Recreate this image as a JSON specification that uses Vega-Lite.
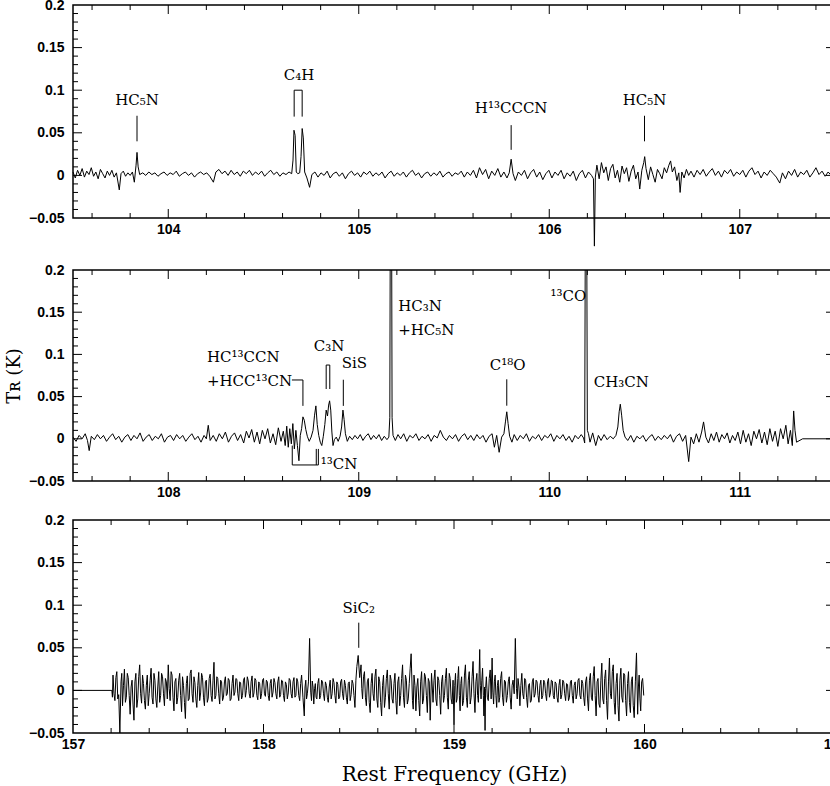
{
"$schema":"https://vega.github.io/schema/vega-lite/v6.json",
"padding":{"left":4,"top":-3,"right":0,"bottom":0},
"background":"white",
"config":{"view":{"stroke":"black","strokeWidth":1.5},
"axis":{"labelFont":"Liberation Sans","labelFontWeight":"bold","labelFontSize":14,"labelColor":"black","domain":false,"grid":false,"titleColor":"black","labelFlush":false,"labelOverlap":false}},
"datasets":{
"s1":[{"f":103.5,"T":0.004},{"f":103.512,"T":-0.003},{"f":103.524,"T":0.006},{"f":103.536,"T":0.0},{"f":103.548,"T":0.008},{"f":103.56,"T":-0.002},{"f":103.572,"T":0.005},{"f":103.584,"T":0.001},{"f":103.596,"T":0.009},{"f":103.608,"T":-0.001},{"f":103.62,"T":0.004},{"f":103.632,"T":-0.004},{"f":103.644,"T":0.007},{"f":103.656,"T":0.002},{"f":103.668,"T":-0.003},{"f":103.68,"T":0.005},{"f":103.692,"T":0.0},{"f":103.704,"T":0.006},{"f":103.716,"T":-0.002},{"f":103.728,"T":0.003},{"f":103.743,"T":-0.017},{"f":103.752,"T":0.002},{"f":103.764,"T":0.005},{"f":103.776,"T":-0.001},{"f":103.788,"T":0.003},{"f":103.8,"T":0.0},{"f":103.812,"T":0.004},{"f":103.822,"T":-0.008},{"f":103.831,"T":0.012},{"f":103.836,"T":0.027},{"f":103.842,"T":0.01},{"f":103.85,"T":0.001},{"f":103.866,"T":0.003},{"f":103.882,"T":0.0},{"f":103.898,"T":0.004},{"f":103.914,"T":0.001},{"f":103.93,"T":0.003},{"f":103.946,"T":-0.001},{"f":103.962,"T":0.002},{"f":103.978,"T":0.004},{"f":103.994,"T":0.0},{"f":104.01,"T":0.003},{"f":104.026,"T":0.001},{"f":104.042,"T":0.005},{"f":104.058,"T":-0.001},{"f":104.074,"T":0.002},{"f":104.09,"T":0.004},{"f":104.106,"T":0.0},{"f":104.122,"T":0.003},{"f":104.138,"T":-0.002},{"f":104.154,"T":0.002},{"f":104.17,"T":0.004},{"f":104.186,"T":0.001},{"f":104.202,"T":0.003},{"f":104.218,"T":-0.001},{"f":104.237,"T":-0.008},{"f":104.25,"T":0.004},{"f":104.266,"T":0.007},{"f":104.282,"T":0.002},{"f":104.298,"T":0.005},{"f":104.314,"T":0.0},{"f":104.33,"T":0.006},{"f":104.346,"T":0.001},{"f":104.362,"T":0.004},{"f":104.378,"T":-0.001},{"f":104.394,"T":0.005},{"f":104.41,"T":0.002},{"f":104.426,"T":0.006},{"f":104.442,"T":0.0},{"f":104.458,"T":0.004},{"f":104.474,"T":0.001},{"f":104.49,"T":0.005},{"f":104.506,"T":-0.001},{"f":104.522,"T":0.003},{"f":104.538,"T":0.006},{"f":104.554,"T":0.001},{"f":104.57,"T":0.004},{"f":104.586,"T":-0.001},{"f":104.602,"T":0.003},{"f":104.618,"T":0.001},{"f":104.634,"T":0.004},{"f":104.648,"T":0.002},{"f":104.655,"T":0.018},{"f":104.66,"T":0.053},{"f":104.666,"T":0.047},{"f":104.672,"T":0.004},{"f":104.68,"T":0.002},{"f":104.69,"T":0.003},{"f":104.697,"T":0.022},{"f":104.703,"T":0.055},{"f":104.709,"T":0.044},{"f":104.716,"T":0.004},{"f":104.728,"T":-0.003},{"f":104.742,"T":-0.014},{"f":104.754,"T":0.001},{"f":104.77,"T":0.004},{"f":104.786,"T":-0.002},{"f":104.802,"T":0.003},{"f":104.818,"T":0.0},{"f":104.834,"T":0.005},{"f":104.85,"T":-0.003},{"f":104.866,"T":0.002},{"f":104.882,"T":0.004},{"f":104.898,"T":-0.001},{"f":104.914,"T":0.003},{"f":104.93,"T":-0.004},{"f":104.946,"T":0.002},{"f":104.962,"T":0.005},{"f":104.978,"T":0.0},{"f":104.994,"T":0.003},{"f":105.01,"T":-0.002},{"f":105.026,"T":0.004},{"f":105.042,"T":0.001},{"f":105.058,"T":0.005},{"f":105.074,"T":-0.001},{"f":105.09,"T":0.003},{"f":105.106,"T":0.0},{"f":105.122,"T":0.004},{"f":105.138,"T":-0.003},{"f":105.154,"T":0.002},{"f":105.17,"T":0.005},{"f":105.186,"T":-0.001},{"f":105.202,"T":0.003},{"f":105.218,"T":0.0},{"f":105.234,"T":0.004},{"f":105.25,"T":-0.002},{"f":105.266,"T":0.003},{"f":105.282,"T":0.006},{"f":105.298,"T":0.0},{"f":105.314,"T":0.003},{"f":105.33,"T":-0.003},{"f":105.346,"T":0.002},{"f":105.362,"T":0.004},{"f":105.378,"T":-0.001},{"f":105.394,"T":0.003},{"f":105.41,"T":0.0},{"f":105.426,"T":0.005},{"f":105.442,"T":-0.002},{"f":105.458,"T":0.002},{"f":105.474,"T":0.004},{"f":105.49,"T":-0.001},{"f":105.506,"T":0.003},{"f":105.522,"T":0.001},{"f":105.538,"T":0.005},{"f":105.554,"T":-0.002},{"f":105.57,"T":0.004},{"f":105.586,"T":0.0},{"f":105.602,"T":0.006},{"f":105.618,"T":-0.003},{"f":105.634,"T":0.009},{"f":105.65,"T":0.001},{"f":105.666,"T":0.007},{"f":105.682,"T":-0.004},{"f":105.698,"T":0.005},{"f":105.714,"T":0.0},{"f":105.73,"T":0.008},{"f":105.746,"T":-0.002},{"f":105.762,"T":0.004},{"f":105.778,"T":-0.003},{"f":105.79,"T":0.003},{"f":105.8,"T":0.019},{"f":105.81,"T":0.002},{"f":105.822,"T":-0.006},{"f":105.838,"T":0.004},{"f":105.854,"T":0.0},{"f":105.87,"T":0.006},{"f":105.886,"T":-0.004},{"f":105.902,"T":0.003},{"f":105.918,"T":0.007},{"f":105.934,"T":-0.002},{"f":105.95,"T":0.004},{"f":105.966,"T":-0.005},{"f":105.982,"T":0.002},{"f":105.998,"T":0.006},{"f":106.014,"T":-0.003},{"f":106.03,"T":0.004},{"f":106.046,"T":0.0},{"f":106.062,"T":0.006},{"f":106.078,"T":-0.004},{"f":106.094,"T":0.003},{"f":106.11,"T":-0.001},{"f":106.126,"T":0.005},{"f":106.142,"T":-0.006},{"f":106.158,"T":0.002},{"f":106.174,"T":0.006},{"f":106.19,"T":-0.003},{"f":106.206,"T":0.004},{"f":106.222,"T":0.0},{"f":106.232,"T":-0.004},{"f":106.237,"T":-0.083},{"f":106.242,"T":-0.002},{"f":106.25,"T":0.012},{"f":106.262,"T":-0.004},{"f":106.274,"T":0.015},{"f":106.286,"T":0.003},{"f":106.298,"T":0.01},{"f":106.31,"T":-0.006},{"f":106.322,"T":0.008},{"f":106.334,"T":0.013},{"f":106.346,"T":-0.003},{"f":106.358,"T":0.006},{"f":106.37,"T":-0.008},{"f":106.382,"T":0.011},{"f":106.394,"T":0.002},{"f":106.406,"T":0.009},{"f":106.418,"T":-0.007},{"f":106.43,"T":0.005},{"f":106.442,"T":0.012},{"f":106.454,"T":-0.004},{"f":106.466,"T":0.004},{"f":106.475,"T":-0.016},{"f":106.486,"T":0.006},{"f":106.496,"T":0.015},{"f":106.501,"T":0.022},{"f":106.508,"T":0.008},{"f":106.52,"T":-0.005},{"f":106.532,"T":0.01},{"f":106.544,"T":0.001},{"f":106.556,"T":-0.008},{"f":106.568,"T":0.007},{"f":106.58,"T":0.002},{"f":106.592,"T":-0.004},{"f":106.604,"T":0.009},{"f":106.616,"T":0.003},{"f":106.628,"T":0.012},{"f":106.637,"T":0.017},{"f":106.646,"T":0.004},{"f":106.658,"T":0.01},{"f":106.67,"T":-0.006},{"f":106.68,"T":0.003},{"f":106.687,"T":-0.02},{"f":106.696,"T":0.004},{"f":106.708,"T":-0.003},{"f":106.72,"T":0.007},{"f":106.732,"T":0.0},{"f":106.744,"T":0.005},{"f":106.76,"T":-0.002},{"f":106.776,"T":0.006},{"f":106.792,"T":0.001},{"f":106.808,"T":0.007},{"f":106.824,"T":-0.001},{"f":106.84,"T":0.004},{"f":106.856,"T":0.008},{"f":106.872,"T":0.0},{"f":106.888,"T":0.005},{"f":106.904,"T":-0.002},{"f":106.92,"T":0.006},{"f":106.936,"T":0.002},{"f":106.952,"T":0.007},{"f":106.968,"T":-0.001},{"f":106.984,"T":0.004},{"f":107.0,"T":0.001},{"f":107.016,"T":0.006},{"f":107.032,"T":-0.002},{"f":107.048,"T":0.005},{"f":107.064,"T":0.009},{"f":107.08,"T":0.001},{"f":107.096,"T":0.005},{"f":107.112,"T":-0.003},{"f":107.128,"T":0.004},{"f":107.144,"T":0.0},{"f":107.16,"T":0.006},{"f":107.176,"T":0.002},{"f":107.192,"T":-0.002},{"f":107.21,"T":-0.009},{"f":107.224,"T":0.003},{"f":107.24,"T":-0.004},{"f":107.256,"T":0.005},{"f":107.272,"T":0.0},{"f":107.288,"T":0.007},{"f":107.304,"T":-0.002},{"f":107.32,"T":0.004},{"f":107.336,"T":0.001},{"f":107.352,"T":0.006},{"f":107.368,"T":-0.002},{"f":107.384,"T":0.003},{"f":107.4,"T":0.009},{"f":107.416,"T":0.001},{"f":107.432,"T":0.005},{"f":107.448,"T":-0.001},{"f":107.464,"T":0.004},{"f":107.48,"T":0.0},{"f":107.496,"T":0.003}],
"s2":[{"f":107.5,"T":0.002},{"f":107.516,"T":-0.003},{"f":107.532,"T":0.004},{"f":107.548,"T":0.0},{"f":107.564,"T":0.006},{"f":107.576,"T":-0.002},{"f":107.585,"T":-0.014},{"f":107.596,"T":0.003},{"f":107.612,"T":-0.001},{"f":107.628,"T":0.005},{"f":107.644,"T":0.0},{"f":107.66,"T":0.004},{"f":107.676,"T":-0.003},{"f":107.692,"T":0.002},{"f":107.708,"T":0.006},{"f":107.724,"T":-0.001},{"f":107.74,"T":0.003},{"f":107.756,"T":-0.004},{"f":107.772,"T":0.002},{"f":107.788,"T":0.005},{"f":107.804,"T":-0.002},{"f":107.82,"T":0.004},{"f":107.836,"T":0.0},{"f":107.852,"T":0.007},{"f":107.868,"T":-0.003},{"f":107.884,"T":0.002},{"f":107.9,"T":0.005},{"f":107.916,"T":-0.002},{"f":107.932,"T":0.003},{"f":107.948,"T":0.0},{"f":107.964,"T":0.006},{"f":107.98,"T":-0.004},{"f":107.996,"T":0.002},{"f":108.012,"T":0.004},{"f":108.028,"T":-0.002},{"f":108.044,"T":0.005},{"f":108.06,"T":0.0},{"f":108.076,"T":0.004},{"f":108.092,"T":-0.003},{"f":108.108,"T":0.002},{"f":108.124,"T":0.006},{"f":108.14,"T":-0.001},{"f":108.156,"T":0.003},{"f":108.172,"T":-0.004},{"f":108.188,"T":0.004},{"f":108.2,"T":0.0},{"f":108.21,"T":0.016},{"f":108.22,"T":-0.002},{"f":108.236,"T":0.004},{"f":108.252,"T":-0.003},{"f":108.268,"T":0.006},{"f":108.284,"T":0.0},{"f":108.3,"T":0.008},{"f":108.316,"T":-0.004},{"f":108.332,"T":0.003},{"f":108.348,"T":0.007},{"f":108.364,"T":-0.002},{"f":108.38,"T":0.005},{"f":108.396,"T":-0.005},{"f":108.41,"T":0.009},{"f":108.424,"T":0.001},{"f":108.438,"T":0.011},{"f":108.452,"T":-0.004},{"f":108.466,"T":0.008},{"f":108.48,"T":-0.006},{"f":108.494,"T":0.01},{"f":108.508,"T":0.0},{"f":108.522,"T":0.012},{"f":108.536,"T":-0.005},{"f":108.55,"T":0.006},{"f":108.564,"T":-0.007},{"f":108.578,"T":0.013},{"f":108.592,"T":-0.003},{"f":108.604,"T":0.009},{"f":108.614,"T":-0.008},{"f":108.622,"T":0.015},{"f":108.63,"T":-0.01},{"f":108.638,"T":0.012},{"f":108.646,"T":-0.006},{"f":108.654,"T":0.018},{"f":108.662,"T":-0.012},{"f":108.67,"T":0.01},{"f":108.678,"T":-0.008},{"f":108.686,"T":-0.026},{"f":108.693,"T":0.004},{"f":108.7,"T":0.012},{"f":108.707,"T":0.026},{"f":108.714,"T":0.022},{"f":108.722,"T":0.011},{"f":108.73,"T":0.003},{"f":108.74,"T":-0.003},{"f":108.75,"T":0.002},{"f":108.76,"T":0.01},{"f":108.768,"T":0.028},{"f":108.775,"T":0.039},{"f":108.782,"T":0.017},{"f":108.79,"T":0.004},{"f":108.798,"T":-0.004},{"f":108.806,"T":-0.008},{"f":108.814,"T":0.003},{"f":108.822,"T":0.017},{"f":108.829,"T":0.034},{"f":108.836,"T":0.027},{"f":108.842,"T":0.04},{"f":108.847,"T":0.045},{"f":108.853,"T":0.034},{"f":108.859,"T":0.008},{"f":108.865,"T":-0.008},{"f":108.872,"T":-0.001},{"f":108.882,"T":0.002},{"f":108.892,"T":-0.003},{"f":108.902,"T":0.003},{"f":108.91,"T":0.014},{"f":108.917,"T":0.034},{"f":108.923,"T":0.023},{"f":108.93,"T":0.006},{"f":108.94,"T":-0.003},{"f":108.952,"T":0.003},{"f":108.966,"T":-0.001},{"f":108.98,"T":0.004},{"f":108.994,"T":0.0},{"f":109.008,"T":0.005},{"f":109.022,"T":-0.002},{"f":109.036,"T":0.003},{"f":109.05,"T":0.006},{"f":109.064,"T":-0.001},{"f":109.078,"T":0.004},{"f":109.092,"T":0.0},{"f":109.106,"T":0.005},{"f":109.12,"T":-0.002},{"f":109.134,"T":0.003},{"f":109.148,"T":-0.001},{"f":109.158,"T":0.002},{"f":109.163,"T":0.025},{"f":109.166,"T":0.3},{"f":109.172,"T":0.3},{"f":109.175,"T":0.025},{"f":109.18,"T":0.004},{"f":109.192,"T":-0.002},{"f":109.206,"T":0.005},{"f":109.22,"T":0.0},{"f":109.236,"T":0.006},{"f":109.252,"T":-0.003},{"f":109.268,"T":0.004},{"f":109.284,"T":0.001},{"f":109.3,"T":0.006},{"f":109.316,"T":-0.002},{"f":109.332,"T":0.003},{"f":109.348,"T":0.0},{"f":109.364,"T":0.005},{"f":109.38,"T":-0.003},{"f":109.396,"T":0.004},{"f":109.412,"T":0.001},{"f":109.428,"T":0.01},{"f":109.444,"T":0.002},{"f":109.46,"T":-0.002},{"f":109.476,"T":0.004},{"f":109.492,"T":0.0},{"f":109.508,"T":0.005},{"f":109.524,"T":-0.003},{"f":109.54,"T":0.003},{"f":109.556,"T":0.006},{"f":109.572,"T":-0.001},{"f":109.588,"T":0.004},{"f":109.604,"T":-0.002},{"f":109.62,"T":0.005},{"f":109.636,"T":0.0},{"f":109.652,"T":0.004},{"f":109.668,"T":-0.004},{"f":109.684,"T":0.003},{"f":109.7,"T":0.006},{"f":109.712,"T":-0.01},{"f":109.724,"T":0.004},{"f":109.737,"T":-0.016},{"f":109.75,"T":0.002},{"f":109.762,"T":0.006},{"f":109.77,"T":0.02},{"f":109.777,"T":0.032},{"f":109.784,"T":0.018},{"f":109.792,"T":0.003},{"f":109.804,"T":-0.004},{"f":109.816,"T":0.005},{"f":109.832,"T":-0.002},{"f":109.848,"T":0.004},{"f":109.864,"T":0.0},{"f":109.88,"T":0.006},{"f":109.896,"T":-0.003},{"f":109.912,"T":0.003},{"f":109.928,"T":0.0},{"f":109.944,"T":0.005},{"f":109.96,"T":-0.002},{"f":109.976,"T":0.004},{"f":109.992,"T":0.001},{"f":110.008,"T":0.006},{"f":110.024,"T":-0.003},{"f":110.04,"T":0.004},{"f":110.056,"T":0.0},{"f":110.072,"T":0.005},{"f":110.088,"T":-0.002},{"f":110.104,"T":0.003},{"f":110.12,"T":-0.004},{"f":110.136,"T":0.004},{"f":110.152,"T":0.0},{"f":110.168,"T":0.005},{"f":110.18,"T":0.001},{"f":110.186,"T":-0.005},{"f":110.19,"T":0.3},{"f":110.196,"T":0.3},{"f":110.2,"T":0.01},{"f":110.206,"T":0.006},{"f":110.214,"T":-0.004},{"f":110.228,"T":0.007},{"f":110.244,"T":-0.008},{"f":110.258,"T":0.004},{"f":110.272,"T":-0.002},{"f":110.288,"T":0.005},{"f":110.304,"T":-0.001},{"f":110.32,"T":0.003},{"f":110.336,"T":0.0},{"f":110.35,"T":0.004},{"f":110.36,"T":0.014},{"f":110.367,"T":0.032},{"f":110.373,"T":0.041},{"f":110.38,"T":0.028},{"f":110.388,"T":0.01},{"f":110.398,"T":0.002},{"f":110.412,"T":-0.002},{"f":110.428,"T":0.004},{"f":110.444,"T":-0.004},{"f":110.46,"T":0.003},{"f":110.476,"T":0.0},{"f":110.492,"T":0.004},{"f":110.508,"T":-0.003},{"f":110.524,"T":0.002},{"f":110.54,"T":0.005},{"f":110.556,"T":-0.002},{"f":110.572,"T":0.003},{"f":110.588,"T":-0.001},{"f":110.604,"T":0.004},{"f":110.62,"T":0.0},{"f":110.636,"T":0.005},{"f":110.652,"T":-0.004},{"f":110.668,"T":0.003},{"f":110.684,"T":0.006},{"f":110.7,"T":-0.003},{"f":110.716,"T":0.004},{"f":110.732,"T":-0.027},{"f":110.744,"T":0.002},{"f":110.758,"T":-0.006},{"f":110.772,"T":0.006},{"f":110.786,"T":-0.004},{"f":110.8,"T":0.008},{"f":110.81,"T":0.02},{"f":110.822,"T":0.002},{"f":110.836,"T":-0.005},{"f":110.85,"T":0.006},{"f":110.864,"T":-0.002},{"f":110.878,"T":0.008},{"f":110.892,"T":-0.004},{"f":110.906,"T":0.005},{"f":110.92,"T":0.0},{"f":110.934,"T":0.007},{"f":110.948,"T":-0.005},{"f":110.962,"T":0.004},{"f":110.976,"T":-0.002},{"f":110.99,"T":0.008},{"f":111.004,"T":-0.006},{"f":111.018,"T":0.01},{"f":111.032,"T":-0.004},{"f":111.046,"T":0.006},{"f":111.06,"T":-0.008},{"f":111.074,"T":0.009},{"f":111.088,"T":0.0},{"f":111.102,"T":0.011},{"f":111.116,"T":-0.005},{"f":111.13,"T":0.008},{"f":111.144,"T":-0.007},{"f":111.158,"T":0.012},{"f":111.172,"T":-0.003},{"f":111.186,"T":0.009},{"f":111.2,"T":-0.009},{"f":111.214,"T":0.012},{"f":111.228,"T":0.0},{"f":111.242,"T":0.016},{"f":111.254,"T":-0.006},{"f":111.266,"T":0.01},{"f":111.276,"T":-0.008},{"f":111.283,"T":0.033},{"f":111.29,"T":0.01},{"f":111.298,"T":-0.004},{"f":111.33,"T":0.0},{"f":111.5,"T":0.0}],
"s3":[{"f":157.0,"T":0.0},{"f":157.204,"T":0.0},{"f":157.207,"T":-0.008},{"f":157.21,"T":0.018},{"f":157.215,"T":-0.004},{"f":157.22,"T":-0.012},{"f":157.225,"T":0.015},{"f":157.23,"T":0.022},{"f":157.235,"T":-0.01},{"f":157.24,"T":-0.005},{"f":157.246,"T":-0.05},{"f":157.252,"T":0.01},{"f":157.256,"T":0.02},{"f":157.26,"T":-0.018},{"f":157.265,"T":0.006},{"f":157.27,"T":0.025},{"f":157.275,"T":-0.014},{"f":157.28,"T":-0.008},{"f":157.285,"T":0.02},{"f":157.29,"T":0.015},{"f":157.295,"T":-0.006},{"f":157.3,"T":-0.028},{"f":157.305,"T":0.004},{"f":157.31,"T":0.012},{"f":157.315,"T":-0.016},{"f":157.32,"T":-0.035},{"f":157.325,"T":0.01},{"f":157.33,"T":0.02},{"f":157.335,"T":-0.02},{"f":157.34,"T":-0.01},{"f":157.345,"T":0.016},{"f":157.35,"T":0.03},{"f":157.355,"T":-0.004},{"f":157.36,"T":-0.015},{"f":157.365,"T":0.018},{"f":157.37,"T":0.008},{"f":157.375,"T":-0.012},{"f":157.38,"T":-0.022},{"f":157.385,"T":0.006},{"f":157.39,"T":0.018},{"f":157.395,"T":-0.018},{"f":157.4,"T":-0.004},{"f":157.405,"T":0.012},{"f":157.41,"T":0.026},{"f":157.415,"T":-0.008},{"f":157.42,"T":-0.016},{"f":157.425,"T":0.02},{"f":157.43,"T":0.012},{"f":157.435,"T":-0.01},{"f":157.44,"T":-0.02},{"f":157.445,"T":0.004},{"f":157.45,"T":0.022},{"f":157.455,"T":-0.014},{"f":157.46,"T":-0.006},{"f":157.465,"T":0.02},{"f":157.47,"T":0.016},{"f":157.475,"T":-0.004},{"f":157.48,"T":-0.018},{"f":157.485,"T":0.014},{"f":157.49,"T":0.01},{"f":157.495,"T":-0.01},{"f":157.5,"T":0.03},{"f":157.505,"T":0.002},{"f":157.51,"T":-0.012},{"f":157.515,"T":0.022},{"f":157.52,"T":0.018},{"f":157.525,"T":-0.008},{"f":157.53,"T":-0.024},{"f":157.535,"T":0.01},{"f":157.54,"T":0.014},{"f":157.545,"T":-0.016},{"f":157.55,"T":-0.008},{"f":157.555,"T":0.012},{"f":157.56,"T":0.02},{"f":157.565,"T":-0.006},{"f":157.57,"T":-0.025},{"f":157.575,"T":0.016},{"f":157.58,"T":0.006},{"f":157.585,"T":-0.014},{"f":157.59,"T":-0.033},{"f":157.595,"T":0.008},{"f":157.6,"T":0.017},{"f":157.605,"T":-0.012},{"f":157.61,"T":-0.01},{"f":157.615,"T":0.02},{"f":157.62,"T":0.024},{"f":157.625,"T":-0.004},{"f":157.63,"T":-0.014},{"f":157.635,"T":0.016},{"f":157.64,"T":0.009},{"f":157.645,"T":-0.01},{"f":157.65,"T":-0.02},{"f":157.655,"T":0.006},{"f":157.66,"T":0.021},{"f":157.665,"T":-0.012},{"f":157.67,"T":-0.003},{"f":157.675,"T":0.02},{"f":157.68,"T":0.015},{"f":157.685,"T":-0.008},{"f":157.69,"T":-0.018},{"f":157.695,"T":0.01},{"f":157.7,"T":0.012},{"f":157.705,"T":-0.014},{"f":157.71,"T":-0.009},{"f":157.715,"T":0.014},{"f":157.72,"T":0.019},{"f":157.725,"T":-0.006},{"f":157.73,"T":-0.013},{"f":157.735,"T":0.012},{"f":157.74,"T":0.033},{"f":157.745,"T":-0.01},{"f":157.75,"T":-0.006},{"f":157.755,"T":0.016},{"f":157.76,"T":0.014},{"f":157.765,"T":-0.004},{"f":157.77,"T":-0.016},{"f":157.775,"T":0.012},{"f":157.78,"T":0.01},{"f":157.785,"T":-0.012},{"f":157.79,"T":-0.008},{"f":157.795,"T":0.01},{"f":157.8,"T":0.016},{"f":157.805,"T":-0.006},{"f":157.81,"T":-0.004},{"f":157.815,"T":0.014},{"f":157.82,"T":0.012},{"f":157.825,"T":-0.012},{"f":157.83,"T":-0.01},{"f":157.835,"T":0.008},{"f":157.84,"T":0.018},{"f":157.845,"T":-0.006},{"f":157.85,"T":-0.002},{"f":157.855,"T":0.014},{"f":157.86,"T":0.013},{"f":157.865,"T":-0.004},{"f":157.87,"T":-0.012},{"f":157.875,"T":0.01},{"f":157.88,"T":0.009},{"f":157.885,"T":-0.01},{"f":157.89,"T":-0.006},{"f":157.895,"T":0.012},{"f":157.9,"T":0.015},{"f":157.905,"T":-0.008},{"f":157.91,"T":0.0},{"f":157.915,"T":0.016},{"f":157.92,"T":0.011},{"f":157.925,"T":-0.004},{"f":157.93,"T":-0.009},{"f":157.935,"T":0.01},{"f":157.94,"T":0.017},{"f":157.945,"T":-0.008},{"f":157.95,"T":-0.003},{"f":157.955,"T":0.014},{"f":157.96,"T":0.012},{"f":157.965,"T":-0.006},{"f":157.97,"T":-0.011},{"f":157.975,"T":0.01},{"f":157.98,"T":0.008},{"f":157.985,"T":-0.01},{"f":157.99,"T":-0.004},{"f":157.995,"T":0.012},{"f":158.0,"T":0.014},{"f":158.005,"T":-0.004},{"f":158.01,"T":-0.007},{"f":158.015,"T":0.012},{"f":158.02,"T":0.01},{"f":158.025,"T":-0.006},{"f":158.03,"T":-0.012},{"f":158.035,"T":0.008},{"f":158.04,"T":0.013},{"f":158.045,"T":-0.008},{"f":158.05,"T":-0.002},{"f":158.055,"T":0.014},{"f":158.06,"T":0.009},{"f":158.065,"T":-0.004},{"f":158.07,"T":-0.01},{"f":158.075,"T":0.01},{"f":158.08,"T":0.016},{"f":158.085,"T":-0.008},{"f":158.09,"T":-0.005},{"f":158.095,"T":0.012},{"f":158.1,"T":0.011},{"f":158.105,"T":-0.006},{"f":158.11,"T":-0.013},{"f":158.115,"T":0.01},{"f":158.12,"T":0.007},{"f":158.125,"T":-0.01},{"f":158.13,"T":-0.003},{"f":158.135,"T":0.014},{"f":158.14,"T":0.012},{"f":158.145,"T":-0.004},{"f":158.15,"T":-0.009},{"f":158.155,"T":0.01},{"f":158.16,"T":0.015},{"f":158.165,"T":-0.008},{"f":158.17,"T":-0.006},{"f":158.175,"T":0.014},{"f":158.18,"T":0.01},{"f":158.185,"T":-0.006},{"f":158.19,"T":-0.012},{"f":158.195,"T":0.008},{"f":158.2,"T":0.018},{"f":158.207,"T":-0.008},{"f":158.214,"T":-0.03},{"f":158.218,"T":0.004},{"f":158.222,"T":0.012},{"f":158.226,"T":-0.01},{"f":158.23,"T":-0.004},{"f":158.236,"T":0.01},{"f":158.242,"T":0.061},{"f":158.248,"T":-0.002},{"f":158.252,"T":-0.012},{"f":158.256,"T":0.011},{"f":158.26,"T":0.004},{"f":158.264,"T":-0.016},{"f":158.268,"T":0.002},{"f":158.272,"T":0.008},{"f":158.276,"T":-0.008},{"f":158.28,"T":-0.01},{"f":158.285,"T":0.008},{"f":158.29,"T":0.014},{"f":158.295,"T":-0.01},{"f":158.3,"T":-0.006},{"f":158.305,"T":0.012},{"f":158.31,"T":0.01},{"f":158.315,"T":-0.004},{"f":158.32,"T":-0.012},{"f":158.325,"T":0.01},{"f":158.33,"T":0.006},{"f":158.335,"T":-0.008},{"f":158.34,"T":-0.014},{"f":158.345,"T":0.004},{"f":158.35,"T":0.012},{"f":158.355,"T":-0.01},{"f":158.36,"T":-0.004},{"f":158.365,"T":0.014},{"f":158.37,"T":0.009},{"f":158.375,"T":-0.006},{"f":158.38,"T":-0.015},{"f":158.385,"T":0.01},{"f":158.39,"T":0.007},{"f":158.395,"T":-0.01},{"f":158.4,"T":-0.008},{"f":158.405,"T":0.01},{"f":158.41,"T":0.013},{"f":158.415,"T":-0.004},{"f":158.42,"T":-0.011},{"f":158.425,"T":0.012},{"f":158.43,"T":0.006},{"f":158.435,"T":-0.008},{"f":158.44,"T":-0.016},{"f":158.445,"T":0.008},{"f":158.45,"T":0.01},{"f":158.455,"T":-0.012},{"f":158.46,"T":-0.005},{"f":158.465,"T":0.012},{"f":158.47,"T":0.008},{"f":158.475,"T":-0.006},{"f":158.48,"T":-0.02},{"f":158.485,"T":0.012},{"f":158.49,"T":0.028},{"f":158.497,"T":0.041},{"f":158.505,"T":0.015},{"f":158.512,"T":0.03},{"f":158.516,"T":0.002},{"f":158.52,"T":-0.01},{"f":158.525,"T":0.016},{"f":158.53,"T":0.022},{"f":158.535,"T":-0.008},{"f":158.54,"T":-0.018},{"f":158.545,"T":0.01},{"f":158.55,"T":0.014},{"f":158.555,"T":-0.014},{"f":158.56,"T":-0.026},{"f":158.565,"T":0.008},{"f":158.57,"T":0.02},{"f":158.575,"T":-0.004},{"f":158.58,"T":-0.012},{"f":158.585,"T":0.016},{"f":158.59,"T":0.025},{"f":158.595,"T":-0.01},{"f":158.6,"T":-0.02},{"f":158.605,"T":0.016},{"f":158.61,"T":0.01},{"f":158.615,"T":-0.014},{"f":158.62,"T":-0.03},{"f":158.625,"T":0.006},{"f":158.63,"T":0.018},{"f":158.635,"T":-0.02},{"f":158.64,"T":-0.008},{"f":158.645,"T":0.014},{"f":158.65,"T":0.024},{"f":158.655,"T":-0.004},{"f":158.66,"T":-0.022},{"f":158.665,"T":0.018},{"f":158.67,"T":0.012},{"f":158.675,"T":-0.01},{"f":158.68,"T":-0.015},{"f":158.685,"T":0.008},{"f":158.69,"T":0.02},{"f":158.695,"T":-0.012},{"f":158.7,"T":-0.028},{"f":158.705,"T":0.01},{"f":158.71,"T":0.016},{"f":158.715,"T":-0.018},{"f":158.72,"T":-0.006},{"f":158.725,"T":0.014},{"f":158.73,"T":0.03},{"f":158.735,"T":-0.008},{"f":158.74,"T":-0.02},{"f":158.745,"T":0.018},{"f":158.75,"T":0.012},{"f":158.755,"T":-0.016},{"f":158.76,"T":-0.01},{"f":158.765,"T":0.008},{"f":158.77,"T":0.026},{"f":158.775,"T":0.043},{"f":158.782,"T":-0.012},{"f":158.786,"T":-0.022},{"f":158.79,"T":0.018},{"f":158.795,"T":0.006},{"f":158.8,"T":-0.024},{"f":158.805,"T":0.004},{"f":158.81,"T":0.014},{"f":158.815,"T":-0.012},{"f":158.82,"T":-0.03},{"f":158.825,"T":0.01},{"f":158.83,"T":0.022},{"f":158.835,"T":-0.016},{"f":158.84,"T":-0.01},{"f":158.845,"T":0.02},{"f":158.85,"T":0.016},{"f":158.855,"T":-0.006},{"f":158.86,"T":-0.026},{"f":158.865,"T":0.014},{"f":158.87,"T":0.01},{"f":158.875,"T":-0.035},{"f":158.882,"T":0.02},{"f":158.886,"T":0.004},{"f":158.89,"T":-0.014},{"f":158.895,"T":0.012},{"f":158.9,"T":0.024},{"f":158.905,"T":-0.01},{"f":158.91,"T":-0.018},{"f":158.915,"T":0.016},{"f":158.92,"T":0.012},{"f":158.925,"T":-0.006},{"f":158.93,"T":-0.028},{"f":158.935,"T":0.01},{"f":158.94,"T":0.018},{"f":158.945,"T":-0.014},{"f":158.95,"T":-0.006},{"f":158.955,"T":0.014},{"f":158.96,"T":0.026},{"f":158.965,"T":-0.008},{"f":158.97,"T":-0.022},{"f":158.975,"T":0.02},{"f":158.98,"T":0.014},{"f":158.985,"T":-0.01},{"f":158.99,"T":-0.016},{"f":158.995,"T":0.012},{"f":159.0,"T":-0.04},{"f":159.004,"T":0.006},{"f":159.008,"T":0.02},{"f":159.012,"T":-0.014},{"f":159.016,"T":-0.01},{"f":159.02,"T":0.014},{"f":159.024,"T":0.028},{"f":159.028,"T":-0.006},{"f":159.032,"T":-0.024},{"f":159.036,"T":0.008},{"f":159.04,"T":0.016},{"f":159.045,"T":-0.018},{"f":159.05,"T":-0.012},{"f":159.055,"T":0.018},{"f":159.06,"T":0.03},{"f":159.065,"T":-0.008},{"f":159.07,"T":-0.02},{"f":159.075,"T":0.012},{"f":159.08,"T":0.022},{"f":159.085,"T":-0.016},{"f":159.09,"T":-0.008},{"f":159.095,"T":0.016},{"f":159.1,"T":0.034},{"f":159.105,"T":-0.004},{"f":159.11,"T":-0.026},{"f":159.115,"T":0.01},{"f":159.12,"T":0.02},{"f":159.124,"T":-0.006},{"f":159.128,"T":-0.014},{"f":159.132,"T":0.02},{"f":159.135,"T":0.048},{"f":159.138,"T":0.006},{"f":159.142,"T":-0.01},{"f":159.146,"T":0.012},{"f":159.15,"T":0.026},{"f":159.154,"T":-0.006},{"f":159.157,"T":-0.03},{"f":159.16,"T":0.004},{"f":159.163,"T":-0.047},{"f":159.166,"T":0.002},{"f":159.17,"T":0.016},{"f":159.175,"T":-0.008},{"f":159.18,"T":-0.012},{"f":159.185,"T":0.014},{"f":159.19,"T":0.024},{"f":159.195,"T":-0.01},{"f":159.2,"T":0.038},{"f":159.204,"T":-0.002},{"f":159.208,"T":-0.016},{"f":159.212,"T":0.01},{"f":159.216,"T":0.018},{"f":159.22,"T":-0.006},{"f":159.224,"T":-0.02},{"f":159.228,"T":0.006},{"f":159.232,"T":0.012},{"f":159.236,"T":-0.014},{"f":159.24,"T":-0.008},{"f":159.245,"T":0.014},{"f":159.25,"T":0.022},{"f":159.255,"T":-0.008},{"f":159.26,"T":-0.018},{"f":159.265,"T":0.012},{"f":159.27,"T":0.01},{"f":159.275,"T":-0.014},{"f":159.28,"T":-0.006},{"f":159.285,"T":0.01},{"f":159.29,"T":0.016},{"f":159.295,"T":-0.008},{"f":159.3,"T":-0.022},{"f":159.305,"T":0.006},{"f":159.31,"T":0.012},{"f":159.316,"T":-0.004},{"f":159.322,"T":0.061},{"f":159.328,"T":0.002},{"f":159.332,"T":-0.01},{"f":159.336,"T":0.014},{"f":159.341,"T":0.004},{"f":159.346,"T":-0.018},{"f":159.351,"T":0.006},{"f":159.356,"T":0.02},{"f":159.361,"T":-0.004},{"f":159.366,"T":-0.01},{"f":159.371,"T":0.014},{"f":159.376,"T":0.012},{"f":159.381,"T":-0.008},{"f":159.386,"T":-0.02},{"f":159.391,"T":0.006},{"f":159.396,"T":0.008},{"f":159.401,"T":-0.014},{"f":159.406,"T":-0.012},{"f":159.411,"T":0.01},{"f":159.416,"T":0.014},{"f":159.421,"T":-0.008},{"f":159.426,"T":-0.004},{"f":159.431,"T":0.012},{"f":159.436,"T":0.01},{"f":159.441,"T":-0.006},{"f":159.446,"T":-0.014},{"f":159.451,"T":0.006},{"f":159.456,"T":0.012},{"f":159.461,"T":-0.01},{"f":159.466,"T":-0.006},{"f":159.471,"T":0.012},{"f":159.476,"T":0.009},{"f":159.481,"T":-0.004},{"f":159.486,"T":-0.012},{"f":159.491,"T":0.01},{"f":159.496,"T":0.014},{"f":159.501,"T":-0.008},{"f":159.506,"T":-0.003},{"f":159.511,"T":0.012},{"f":159.516,"T":0.011},{"f":159.521,"T":-0.006},{"f":159.526,"T":-0.01},{"f":159.531,"T":0.01},{"f":159.536,"T":0.008},{"f":159.541,"T":-0.008},{"f":159.546,"T":-0.014},{"f":159.551,"T":0.006},{"f":159.556,"T":0.013},{"f":159.561,"T":-0.01},{"f":159.566,"T":-0.005},{"f":159.571,"T":0.012},{"f":159.576,"T":0.01},{"f":159.581,"T":-0.004},{"f":159.586,"T":-0.012},{"f":159.591,"T":0.008},{"f":159.596,"T":0.007},{"f":159.601,"T":-0.012},{"f":159.606,"T":-0.008},{"f":159.611,"T":0.01},{"f":159.616,"T":0.012},{"f":159.621,"T":-0.006},{"f":159.626,"T":-0.015},{"f":159.631,"T":0.006},{"f":159.636,"T":0.01},{"f":159.641,"T":-0.01},{"f":159.646,"T":-0.004},{"f":159.651,"T":0.012},{"f":159.656,"T":0.014},{"f":159.661,"T":-0.006},{"f":159.666,"T":-0.01},{"f":159.671,"T":0.012},{"f":159.676,"T":0.008},{"f":159.681,"T":-0.008},{"f":159.686,"T":-0.018},{"f":159.691,"T":0.01},{"f":159.696,"T":0.016},{"f":159.701,"T":-0.01},{"f":159.706,"T":-0.024},{"f":159.711,"T":0.012},{"f":159.716,"T":0.02},{"f":159.721,"T":-0.008},{"f":159.726,"T":-0.012},{"f":159.731,"T":0.016},{"f":159.736,"T":0.028},{"f":159.741,"T":-0.006},{"f":159.746,"T":-0.03},{"f":159.751,"T":0.01},{"f":159.756,"T":0.014},{"f":159.761,"T":-0.016},{"f":159.766,"T":-0.02},{"f":159.771,"T":0.012},{"f":159.776,"T":0.032},{"f":159.781,"T":-0.01},{"f":159.786,"T":-0.016},{"f":159.791,"T":0.014},{"f":159.796,"T":0.024},{"f":159.801,"T":-0.012},{"f":159.806,"T":-0.034},{"f":159.811,"T":0.01},{"f":159.816,"T":0.038},{"f":159.821,"T":-0.004},{"f":159.826,"T":-0.01},{"f":159.831,"T":0.022},{"f":159.836,"T":0.03},{"f":159.841,"T":-0.014},{"f":159.846,"T":-0.028},{"f":159.851,"T":0.008},{"f":159.856,"T":0.02},{"f":159.861,"T":-0.018},{"f":159.866,"T":-0.036},{"f":159.871,"T":0.012},{"f":159.876,"T":0.026},{"f":159.881,"T":-0.008},{"f":159.886,"T":-0.014},{"f":159.891,"T":0.02},{"f":159.896,"T":0.018},{"f":159.901,"T":-0.012},{"f":159.906,"T":-0.03},{"f":159.911,"T":0.008},{"f":159.916,"T":0.022},{"f":159.921,"T":-0.014},{"f":159.926,"T":-0.026},{"f":159.931,"T":0.01},{"f":159.936,"T":0.016},{"f":159.941,"T":-0.018},{"f":159.946,"T":-0.032},{"f":159.952,"T":0.01},{"f":159.958,"T":0.044},{"f":159.964,"T":-0.028},{"f":159.968,"T":0.004},{"f":159.972,"T":0.018},{"f":159.976,"T":-0.01},{"f":159.98,"T":-0.024},{"f":159.985,"T":0.01},{"f":159.99,"T":0.014},{"f":159.996,"T":-0.006}],
"l1c":[{"f":103.836,"T":0.083,"label":"HC₅N"},{"f":104.686,"T":0.112,"label":"C₄H"},{"f":105.8,"T":0.073,"label":"H¹³CCCN"},{"f":106.5,"T":0.083,"label":"HC₅N"}],
"r1":[{"f":103.836,"T":0.04,"f2":103.836,"T2":0.07},{"f":104.661,"T":0.069,"f2":104.661,"T2":0.1},{"f":104.703,"T":0.069,"f2":104.703,"T2":0.1},{"f":104.661,"T":0.1,"f2":104.703,"T2":0.1},{"f":105.8,"T":0.03,"f2":105.8,"T2":0.059},{"f":106.5,"T":0.04,"f2":106.5,"T2":0.07}],
"l2c":[{"f":108.844,"T":0.104,"label":"C₃N"},{"f":108.977,"T":0.084,"label":"SiS"},{"f":109.782,"T":0.0815,"label":"C¹⁸O"},{"f":110.378,"T":0.0618,"label":"CH₃CN"}],
"l2l":[{"f":108.203,"T":0.091,"label":"HC¹³CCN"},{"f":108.203,"T":0.0626,"label":"+HCC¹³CN"},{"f":108.8,"T":-0.036,"label":"¹³CN"},{"f":109.207,"T":0.152,"label":"HC₃N"},{"f":109.207,"T":0.123,"label":"+HC₅N"}],
"l2r":[{"f":110.195,"T":0.1636,"label":"¹³CO"}],
"r2":[{"f":108.649,"T":0.0697,"f2":108.707,"T2":0.0697},{"f":108.707,"T":0.039,"f2":108.707,"T2":0.0697},{"f":108.829,"T":0.059,"f2":108.829,"T2":0.0874},{"f":108.848,"T":0.059,"f2":108.848,"T2":0.0874},{"f":108.829,"T":0.0874,"f2":108.848,"T2":0.0874},{"f":108.919,"T":0.039,"f2":108.919,"T2":0.07},{"f":108.651,"T":-0.031,"f2":108.651,"T2":-0.008},{"f":108.777,"T":-0.031,"f2":108.777,"T2":-0.012},{"f":108.788,"T":-0.031,"f2":108.788,"T2":-0.012},{"f":108.651,"T":-0.031,"f2":108.788,"T2":-0.031},{"f":109.777,"T":0.0392,"f2":109.777,"T2":0.0705}],
"l3c":[{"f":158.5,"T":0.0909,"label":"SiC₂"}],
"r3":[{"f":158.5,"T":0.05,"f2":158.5,"T2":0.0795}],
"xM1":[{"v":104},{"v":105},{"v":106},{"v":107}],
"xm1":[{"v":103.6},{"v":103.8},{"v":104.2},{"v":104.4},{"v":104.6},{"v":104.8},{"v":105.2},{"v":105.4},{"v":105.6},{"v":105.8},{"v":106.2},{"v":106.4},{"v":106.6},{"v":106.8},{"v":107.2},{"v":107.4}],
"xM2":[{"v":108},{"v":109},{"v":110},{"v":111}],
"xm2":[{"v":107.6},{"v":107.8},{"v":108.2},{"v":108.4},{"v":108.6},{"v":108.8},{"v":109.2},{"v":109.4},{"v":109.6},{"v":109.8},{"v":110.2},{"v":110.4},{"v":110.6},{"v":110.8},{"v":111.2},{"v":111.4}],
"xM3":[{"v":158},{"v":159},{"v":160}],
"xm3":[{"v":157.2},{"v":157.4},{"v":157.6},{"v":157.8},{"v":158.2},{"v":158.4},{"v":158.6},{"v":158.8},{"v":159.2},{"v":159.4},{"v":159.6},{"v":159.8},{"v":160.2},{"v":160.4},{"v":160.6},{"v":160.8}],
"yM":[{"v":0},{"v":0.05},{"v":0.1},{"v":0.15}],
"ym":[{"v":-0.04},{"v":-0.03},{"v":-0.02},{"v":-0.01},{"v":0.01},{"v":0.02},{"v":0.03},{"v":0.04},{"v":0.06},{"v":0.07},{"v":0.08},{"v":0.09},{"v":0.11},{"v":0.12},{"v":0.13},{"v":0.14},{"v":0.16},{"v":0.17},{"v":0.18},{"v":0.19}]
},
"bounds":"flush",
"spacing":52,
"vconcat":[
{"width":762,"height":213,
"layer":[
{"data":{"name":"s1"},"mark":{"type":"line","color":"black","strokeWidth":1,"clip":false},
"encoding":{"x":{"field":"f","type":"quantitative","scale":{"domain":[103.5,107.5],"nice":false,"zero":false},"axis":{"orient":"bottom","values":[104,105,106,107],"format":"d","ticks":false,"labelPadding":4,"title":null}},
"y":{"field":"T","type":"quantitative","scale":{"domain":[-0.05,0.2],"nice":false,"zero":false},"axis":{"orient":"left","values":[-0.05,0,0.05,0.1,0.15,0.2],"format":".2~f","ticks":false,"labelPadding":9,"title":null}}}},
{"data":{"name":"xM1"},"mark":{"type":"rule","color":"black","strokeWidth":1,"strokeDash":[9,195,9,2000]},
"encoding":{"x":{"field":"v","type":"quantitative"},"y":{"datum":-0.05,"type":"quantitative"},"y2":{"datum":0.2}}},
{"data":{"name":"xm1"},"mark":{"type":"rule","color":"black","strokeWidth":1,"strokeDash":[5,203,5,2000]},
"encoding":{"x":{"field":"v","type":"quantitative"},"y":{"datum":-0.05,"type":"quantitative"},"y2":{"datum":0.2}}},
{"data":{"name":"yM"},"mark":{"type":"rule","color":"black","strokeWidth":1,"strokeDash":[9,744,9,2000]},
"encoding":{"y":{"field":"v","type":"quantitative"},"x":{"datum":103.5,"type":"quantitative"},"x2":{"datum":107.5}}},
{"data":{"name":"ym"},"mark":{"type":"rule","color":"black","strokeWidth":1,"strokeDash":[5,752,5,2000]},
"encoding":{"y":{"field":"v","type":"quantitative"},"x":{"datum":103.5,"type":"quantitative"},"x2":{"datum":107.5}}},
{"data":{"name":"r1"},"mark":{"type":"rule","color":"black","strokeWidth":1},
"encoding":{"x":{"field":"f","type":"quantitative"},"x2":{"field":"f2"},"y":{"field":"T","type":"quantitative"},"y2":{"field":"T2"}}},
{"data":{"name":"l1c"},"mark":{"type":"text","align":"center","baseline":"alphabetic","font":"DejaVu Serif","fontSize":15,"color":"black"},
"encoding":{"x":{"field":"f","type":"quantitative"},"y":{"field":"T","type":"quantitative"},"text":{"field":"label"}}}
]},
{"bounds":"flush","spacing":39,"vconcat":[
{"width":762,"height":211,
"layer":[
{"data":{"name":"s2"},"mark":{"type":"line","color":"black","strokeWidth":1,"clip":true},
"encoding":{"x":{"field":"f","type":"quantitative","scale":{"domain":[107.5,111.5],"nice":false,"zero":false},"axis":{"orient":"bottom","values":[108,109,110,111],"format":"d","ticks":false,"labelPadding":4,"title":null}},
"y":{"field":"T","type":"quantitative","scale":{"domain":[-0.05,0.2],"nice":false,"zero":false},"axis":{"orient":"left","values":[-0.05,0,0.05,0.1,0.15,0.2],"format":".2~f","ticks":false,"labelPadding":9,"title":"Tʀ (K)","titleFont":"DejaVu Serif","titleFontSize":18,"titleFontWeight":"normal","titlePadding":5}}}},
{"data":{"name":"xM2"},"mark":{"type":"rule","color":"black","strokeWidth":1,"strokeDash":[9,193,9,2000]},
"encoding":{"x":{"field":"v","type":"quantitative"},"y":{"datum":-0.05,"type":"quantitative"},"y2":{"datum":0.2}}},
{"data":{"name":"xm2"},"mark":{"type":"rule","color":"black","strokeWidth":1,"strokeDash":[5,201,5,2000]},
"encoding":{"x":{"field":"v","type":"quantitative"},"y":{"datum":-0.05,"type":"quantitative"},"y2":{"datum":0.2}}},
{"data":{"name":"yM"},"mark":{"type":"rule","color":"black","strokeWidth":1,"strokeDash":[9,744,9,2000]},
"encoding":{"y":{"field":"v","type":"quantitative"},"x":{"datum":107.5,"type":"quantitative"},"x2":{"datum":111.5}}},
{"data":{"name":"ym"},"mark":{"type":"rule","color":"black","strokeWidth":1,"strokeDash":[5,752,5,2000]},
"encoding":{"y":{"field":"v","type":"quantitative"},"x":{"datum":107.5,"type":"quantitative"},"x2":{"datum":111.5}}},
{"data":{"name":"r2"},"mark":{"type":"rule","color":"black","strokeWidth":1},
"encoding":{"x":{"field":"f","type":"quantitative"},"x2":{"field":"f2"},"y":{"field":"T","type":"quantitative"},"y2":{"field":"T2"}}},
{"data":{"name":"l2c"},"mark":{"type":"text","align":"center","baseline":"alphabetic","font":"DejaVu Serif","fontSize":15,"color":"black"},
"encoding":{"x":{"field":"f","type":"quantitative"},"y":{"field":"T","type":"quantitative"},"text":{"field":"label"}}},
{"data":{"name":"l2l"},"mark":{"type":"text","align":"left","baseline":"alphabetic","font":"DejaVu Serif","fontSize":15,"color":"black"},
"encoding":{"x":{"field":"f","type":"quantitative"},"y":{"field":"T","type":"quantitative"},"text":{"field":"label"}}},
{"data":{"name":"l2r"},"mark":{"type":"text","align":"right","baseline":"alphabetic","font":"DejaVu Serif","fontSize":15,"color":"black"},
"encoding":{"x":{"field":"f","type":"quantitative"},"y":{"field":"T","type":"quantitative"},"text":{"field":"label"}}}
]},
{"width":762,"height":213,
"layer":[
{"data":{"name":"s3"},"mark":{"type":"line","color":"black","strokeWidth":1,"clip":true},
"encoding":{"x":{"field":"f","type":"quantitative","scale":{"domain":[157,161],"nice":false,"zero":false},"axis":{"orient":"bottom","values":[157,158,159,160,161],"format":"d","ticks":false,"labelPadding":4,"title":"Rest Frequency (GHz)","titleFont":"DejaVu Serif","titleFontSize":20,"titleFontWeight":"normal","titlePadding":13}},
"y":{"field":"T","type":"quantitative","scale":{"domain":[-0.05,0.2],"nice":false,"zero":false},"axis":{"orient":"left","values":[-0.05,0,0.05,0.1,0.15,0.2],"format":".2~f","ticks":false,"labelPadding":9,"title":null}}}},
{"data":{"name":"xM3"},"mark":{"type":"rule","color":"black","strokeWidth":1,"strokeDash":[9,195,9,2000]},
"encoding":{"x":{"field":"v","type":"quantitative"},"y":{"datum":-0.05,"type":"quantitative"},"y2":{"datum":0.2}}},
{"data":{"name":"xm3"},"mark":{"type":"rule","color":"black","strokeWidth":1,"strokeDash":[5,203,5,2000]},
"encoding":{"x":{"field":"v","type":"quantitative"},"y":{"datum":-0.05,"type":"quantitative"},"y2":{"datum":0.2}}},
{"data":{"name":"yM"},"mark":{"type":"rule","color":"black","strokeWidth":1,"strokeDash":[9,744,9,2000]},
"encoding":{"y":{"field":"v","type":"quantitative"},"x":{"datum":157,"type":"quantitative"},"x2":{"datum":161}}},
{"data":{"name":"ym"},"mark":{"type":"rule","color":"black","strokeWidth":1,"strokeDash":[5,752,5,2000]},
"encoding":{"y":{"field":"v","type":"quantitative"},"x":{"datum":157,"type":"quantitative"},"x2":{"datum":161}}},
{"data":{"name":"r3"},"mark":{"type":"rule","color":"black","strokeWidth":1},
"encoding":{"x":{"field":"f","type":"quantitative"},"x2":{"field":"f2"},"y":{"field":"T","type":"quantitative"},"y2":{"field":"T2"}}},
{"data":{"name":"l3c"},"mark":{"type":"text","align":"center","baseline":"alphabetic","font":"DejaVu Serif","fontSize":15,"color":"black"},
"encoding":{"x":{"field":"f","type":"quantitative"},"y":{"field":"T","type":"quantitative"},"text":{"field":"label"}}}
]}
]}
]
}
